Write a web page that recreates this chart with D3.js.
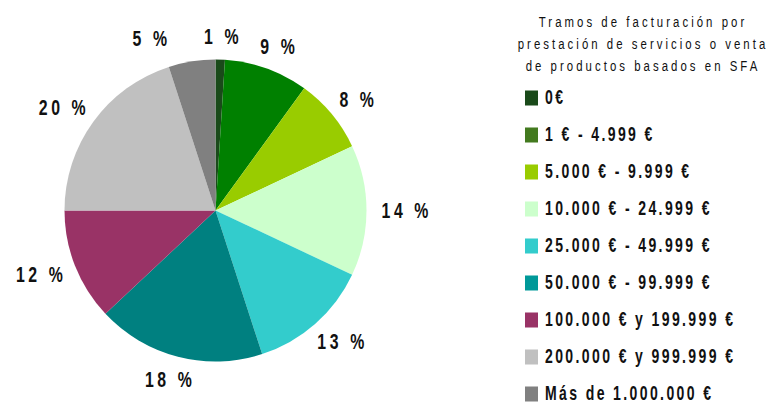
<!DOCTYPE html>
<html><head><meta charset="utf-8">
<script src="https://cdn.jsdelivr.net/npm/d3@7"></script>
<style>
body{margin:0;background:#fff;}
text{font-family:"Liberation Sans",Arial,sans-serif;}
</style></head>
<body><svg id="c" width="768" height="403"></svg>
<script>
const categories = ["0€","1 € - 4.999 €","5.000 € - 9.999 €","10.000 € - 24.999 €","25.000 € - 49.999 €","50.000 € - 99.999 €","100.000 € y 199.999 €","200.000 € y 999.999 €","Más de 1.000.000 €"];
const values = [1,9,8,14,13,18,12,20,5];
const labels = ["1 %","9 %","8 %","14 %","13 %","18 %","12 %","20 %","5 %"];
const sliceColors = ["#1a4a1a","#008000","#99cc00","#ccffcc","#33cccc","#008080","#993366","#c0c0c0","#808080"];
const legendColors = ["#1a4a1a","#437a1f","#99cc00","#ccffcc","#33cccc","#009999","#993366","#c0c0c0","#808080"];
const titleLines = ["Tramos de facturación por","prestación de servicios o venta","de productos basados en SFA"];

const SX = 0.72; // condensed look
const svg = d3.select("#c");
const cx = 215.5, cy = 210.5, r = 151;
const pie = d3.pie().sort(null).value(d=>d)(values);
const arc = d3.arc().innerRadius(0).outerRadius(r);
const g = svg.append("g").attr("transform",`translate(${cx},${cy})`);
g.selectAll("path").data(pie).join("path")
  .attr("d",arc).attr("fill",(d,i)=>sliceColors[i]);

// labels outside the pie
const labs = g.selectAll("text.lab").data(pie).join("text").attr("class","lab")
  .attr("text-anchor","middle").attr("dominant-baseline","central")
  .attr("font-size",22).attr("font-weight","bold").attr("letter-spacing",5)
  .attr("fill","#111")
  .text((d,i)=>labels[i]);
const gap = 15;
const pos = [];
labs.each(function(d){
  const w = this.getComputedTextLength()*SX - 3.6, h = 17;
  const a = (d.startAngle+d.endAngle)/2;
  const sx = Math.sin(a), sy = -Math.cos(a);
  pos.push({x: sx*(r+gap)+sx*w/2, y: sy*(r+gap)+sy*h/2, w, h});
});
// resolve overlap of the last label with the first (near the top)
const last = pos[pos.length-1], first = pos[0];
while (Math.abs(last.x-first.x) < (last.w+first.w)/2 + 36 && Math.abs(last.y-first.y) < 30) last.x -= 1;
labs.attr("transform",(d,i)=>`translate(${pos[i].x+1.8},${pos[i].y}) scale(${SX},1)`);

// title
titleLines.forEach((l,i)=>{
  svg.append("text").attr("transform",`translate(643,${26.5+i*22}) scale(0.76,1)`)
    .attr("text-anchor","middle").attr("font-size",15).attr("letter-spacing",4.0)
    .attr("fill","#111").text(l);
});

// legend
const lg = svg.append("g");
const y = d3.scalePoint().domain(d3.range(categories.length)).range([98,394]);
categories.forEach((c,i)=>{
  lg.append("rect").attr("x",525).attr("y",y(i)-7.5).attr("width",13).attr("height",15).attr("fill",legendColors[i]);
  lg.append("text").attr("transform",`translate(545,${y(i)}) scale(${SX},1)`).attr("dominant-baseline","central")
    .attr("font-size",19.5).attr("font-weight","bold").attr("letter-spacing",3.3).attr("fill","#111").text(c);
});
</script></body></html>
